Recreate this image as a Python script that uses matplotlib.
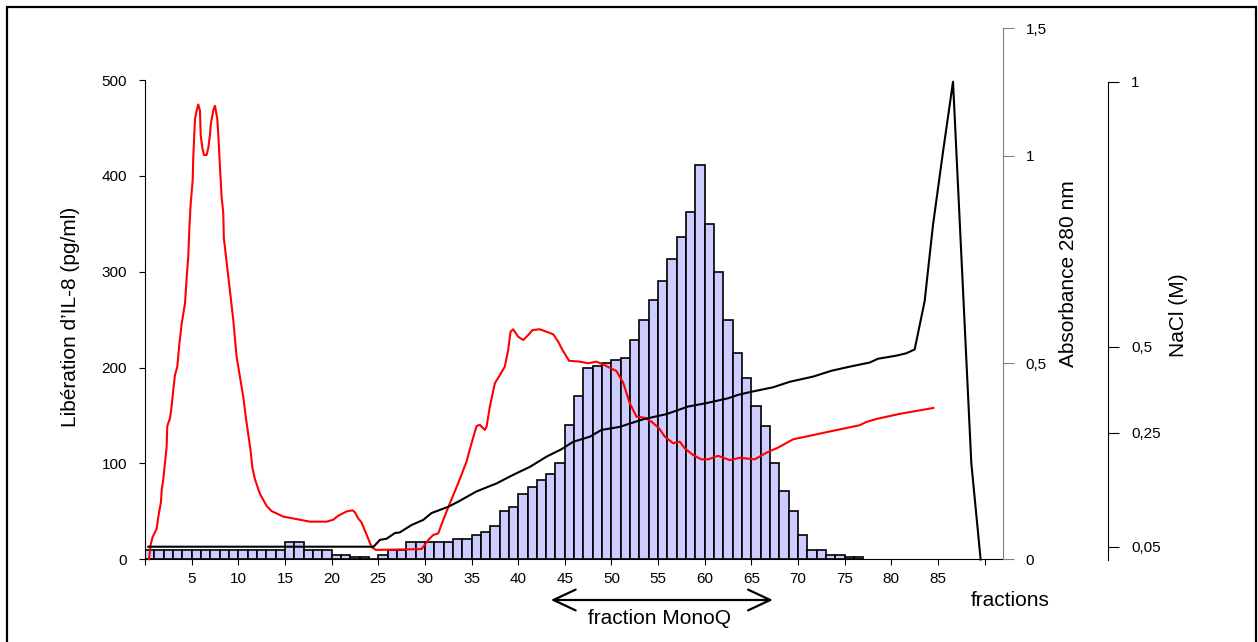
import numpy as np
import matplotlib.pyplot as plt
from matplotlib.patches import Rectangle

plt.rcParams['font.family'] = ['Liberation Sans', 'DejaVu Sans']

# IL-8 release per fraction (bars)
fractions = np.arange(1, 78)
il8 = [10, 10, 10, 10, 10, 10, 10, 10, 10, 10, 10, 10, 10, 10, 10,
       18, 18, 10, 10, 10, 4, 4, 2, 2, 0, 4, 10, 10, 18, 18,
       18, 18, 18, 21, 21, 25, 29, 35, 50, 55, 68, 75, 83, 89, 100,
       140, 170, 200, 202, 205, 208, 210, 229, 250, 271, 290, 313, 336, 362, 411,
       350, 300, 250, 215, 189, 160, 139, 100, 71, 50, 25, 10, 10, 4, 4,
       2, 2]

# absorbance 280 nm (red trace)
abs_x = [0.43, 0.6, 0.82, 1.25, 1.43, 1.71, 1.79, 1.96, 2.14, 2.32, 2.39, 2.68, 2.86, 3.04,
         3.21, 3.46, 3.68, 3.93, 4.29, 4.46, 4.64, 4.75, 4.89, 5.11, 5.18, 5.36, 5.54, 5.71,
         5.89, 5.97, 6.14, 6.32, 6.61, 6.79, 6.96, 7.07, 7.32, 7.5, 7.75, 7.86, 8.04, 8.21,
         8.39, 8.45, 8.75, 9.11, 9.46, 9.82, 10.18, 10.54, 10.82, 11.07, 11.32, 11.5, 11.79,
         12.32, 13.04, 13.57, 14.82, 16.6, 17.68, 19.46, 20.18, 20.71, 21.6, 22.25, 22.5,
         22.86, 23.21, 23.75, 24.29, 24.75, 29.64, 30.36, 30.89, 31.43, 31.96, 32.68, 33.57,
         34.46, 35.0, 35.54, 35.89, 36.43, 36.61, 36.96, 37.5, 38.04, 38.57, 38.93, 39.18,
         39.46, 39.64, 40.0, 40.54, 41.07, 41.54, 42.32, 43.04, 43.75, 44.29, 44.75, 45.46,
         46.61, 47.5, 48.39, 49.29, 50.54, 51.25, 51.96, 52.68, 53.57, 54.29, 55.11, 55.72,
         56.61, 57.32, 57.86, 58.75, 59.64, 60.36, 61.43, 62.68, 63.75, 65.36, 66.61, 67.86,
         69.46, 71.61, 73.39, 76.6, 77.3, 78.4, 80.9, 84.5]
abs_y = [0.0, 0.037, 0.057, 0.078, 0.109, 0.146, 0.177, 0.204, 0.246, 0.287, 0.340, 0.360,
         0.392, 0.434, 0.470, 0.491, 0.546, 0.595, 0.645, 0.704, 0.758, 0.822, 0.882, 0.941,
         1.0, 1.144, 1.177, 1.201, 1.177, 1.081, 1.032, 1.003, 1.003, 1.032, 1.081, 1.128,
         1.177, 1.196, 1.144, 1.081, 0.970, 0.901, 0.862, 0.802, 0.743, 0.674, 0.605, 0.516,
         0.465, 0.413, 0.360, 0.319, 0.277, 0.235, 0.204, 0.167, 0.136, 0.123, 0.109, 0.101,
         0.096, 0.096, 0.101, 0.111, 0.122, 0.125, 0.120, 0.104, 0.094, 0.063, 0.031, 0.024,
         0.026, 0.049, 0.062, 0.066, 0.100, 0.143, 0.194, 0.249, 0.296, 0.340, 0.343, 0.330,
         0.338, 0.389, 0.449, 0.470, 0.492, 0.532, 0.576, 0.582, 0.576, 0.564, 0.556, 0.568,
         0.580, 0.582, 0.576, 0.570, 0.552, 0.532, 0.506, 0.504, 0.500, 0.504, 0.495, 0.480,
         0.451, 0.398, 0.364, 0.361, 0.351, 0.334, 0.313, 0.296, 0.300, 0.283, 0.266, 0.255,
         0.255, 0.264, 0.253, 0.259, 0.255, 0.272, 0.285, 0.306, 0.317, 0.326, 0.342, 0.350,
         0.358, 0.371, 0.386]

# NaCl gradient (black trace)
nacl_x = [0.36, 24.5, 25.18, 25.9, 26.79, 27.3, 28.57, 29.82, 30.71, 32.5, 33.57, 35.54,
          37.68, 39.46, 41.25, 43.04, 44.64, 45.89, 47.68, 48.93, 50.89, 53.39, 55.9, 58.21,
          60.18, 62.5, 63.57, 65.0, 67.32, 69.11, 71.61, 73.57, 75.54, 77.68, 78.57, 80.54,
          81.61, 82.5, 83.57, 84.46, 85.54, 86.61, 88.57, 89.57]
nacl_y = [0.05, 0.05, 0.062, 0.064, 0.074, 0.075, 0.088, 0.097, 0.109, 0.120, 0.129, 0.147,
          0.161, 0.176, 0.190, 0.208, 0.221, 0.234, 0.243, 0.258, 0.267, 0.289, 0.304, 0.326,
          0.336, 0.350, 0.360, 0.369, 0.382, 0.398, 0.413, 0.430, 0.442, 0.454, 0.465, 0.474,
          0.481, 0.492, 0.586, 0.729, 0.868, 1.0, 0.197, 0.0]

x_ticks = np.arange(0, 91, 5)
x_ticklabels = ['' if t in (0, 90) else str(t) for t in x_ticks]
il8_ticks = [0, 100, 200, 300, 400, 500]
abs_ticks = [0, 0.5, 1, 1.5]
abs_ticklabels = ['0', '0,5', '1', '1,5']
nacl_ticks = [0.05, 0.25, 0.5, 1]
nacl_ticklabels = ['0,05', '0,25', '0,5', '1']

# the right-hand axes of the original are drawn unevenly: tick heights in px
abs_anchor_h = [0, 196, 403.6, 531]
nacl_anchor_v = [0, 0.05, 0.25, 0.5, 1.0]
nacl_anchor_h = [0, 12.8, 126.8, 212.8, 477.8]

W, H = 1258, 642


def box(x0, ytop, x1, ybot):
    return [x0 / W, 1 - ybot / H, (x1 - x0) / W, (ybot - ytop) / H]


fig = plt.figure(figsize=(W / 100, H / 100), dpi=100)

ax = fig.add_axes(box(145, 80, 1003.3, 559.3))
ax.bar(fractions - 1, il8, width=1, align='edge', color='#ccccff',
       edgecolor='black', linewidth=1.2)
ax.set_xlim(0, 92)
ax.set_ylim(0, 500)
ax.set_xticks(x_ticks)
ax.set_xticklabels(x_ticklabels)
ax.set_yticks(il8_ticks)
ax.spines['top'].set_visible(False)
ax.spines['right'].set_visible(False)
ax.tick_params(axis='x', direction='out', length=4, pad=5, labelsize=11)
ax.tick_params(axis='y', direction='out', length=4, pad=9, labelsize=11)

# absorbance axis
ax_abs = fig.add_axes(box(145, 28.3, 1003.3, 559.3), sharex=ax)
ax_abs.patch.set_visible(False)
ax_abs.set_yscale('function', functions=(lambda v: np.interp(v, abs_ticks, abs_anchor_h),
                                         lambda h: np.interp(h, abs_anchor_h, abs_ticks)))
ax_abs.plot(abs_x, abs_y, color='red', lw=1.5, clip_on=False)
ax_abs.set_ylim(0, 1.5)
ax_abs.set_yticks(abs_ticks)
ax_abs.set_yticklabels(abs_ticklabels)
ax_abs.yaxis.set_minor_locator(plt.NullLocator())
for s in ['top', 'left', 'bottom']:
    ax_abs.spines[s].set_visible(False)
ax_abs.spines['right'].set_color('#808080')
ax_abs.yaxis.tick_right()
ax_abs.tick_params(axis='x', bottom=False, labelbottom=False)
ax_abs.tick_params(axis='y', direction='out', length=8, pad=8, labelsize=11, color='#808080')

# NaCl axis
ax_na = fig.add_axes(box(145, 81.7, 1003.3, 559.5), sharex=ax)
ax_na.patch.set_visible(False)
ax_na.set_yscale('function', functions=(lambda v: np.interp(v, nacl_anchor_v, nacl_anchor_h),
                                        lambda h: np.interp(h, nacl_anchor_h, nacl_anchor_v)))
ax_na.plot(nacl_x, nacl_y, color='black', lw=1.5, clip_on=False)
ax_na.set_ylim(0, 1)
ax_na.set_yticks(nacl_ticks)
ax_na.set_yticklabels(nacl_ticklabels)
ax_na.yaxis.set_minor_locator(plt.NullLocator())
for s in ['top', 'left', 'bottom']:
    ax_na.spines[s].set_visible(False)
ax_na.spines['right'].set_position(('axes', (1107.7 - 145) / (1003.3 - 145)))
ax_na.yaxis.tick_right()
ax_na.tick_params(axis='x', bottom=False, labelbottom=False)
ax_na.tick_params(axis='y', direction='out', length=8, pad=9, labelsize=11)

# axis titles
fig.text(71 / W, 1 - 317 / H, "Libération d\u2019IL-8 (pg/ml)", rotation=90,
         ha='center', va='center', fontsize=15)
fig.text(1069 / W, 1 - 274 / H, "Absorbance 280 nm", rotation=90,
         ha='center', va='center', fontsize=15)
fig.text(1178 / W, 1 - 315 / H, "NaCl (M)", rotation=90,
         ha='center', va='center', fontsize=15)
fig.text(1010 / W, 1 - 601 / H, "fractions", ha='center', va='center', fontsize=15)

# MonoQ pool arrow
ax.annotate('', xy=(67.3, 1 - 600 / H), xytext=(43.5, 1 - 600 / H),
            xycoords=('data', 'figure fraction'), textcoords=('data', 'figure fraction'),
            arrowprops=dict(arrowstyle='<->,head_length=1.6,head_width=0.75',
                            lw=1.6, color='black', shrinkA=0, shrinkB=0,
                            mutation_scale=10), annotation_clip=False)
fig.text(660 / W, 1 - 618 / H, "fraction MonoQ", ha='center', va='center', fontsize=15)

# outer frame
fig.patches.append(Rectangle((7 / W, -0.05), (1256 - 7) / W, 1.05 - 7 / H,
                             transform=fig.transFigure, fill=False, lw=1.6,
                             edgecolor='black'))

fig.savefig('out.png', dpi=100)
